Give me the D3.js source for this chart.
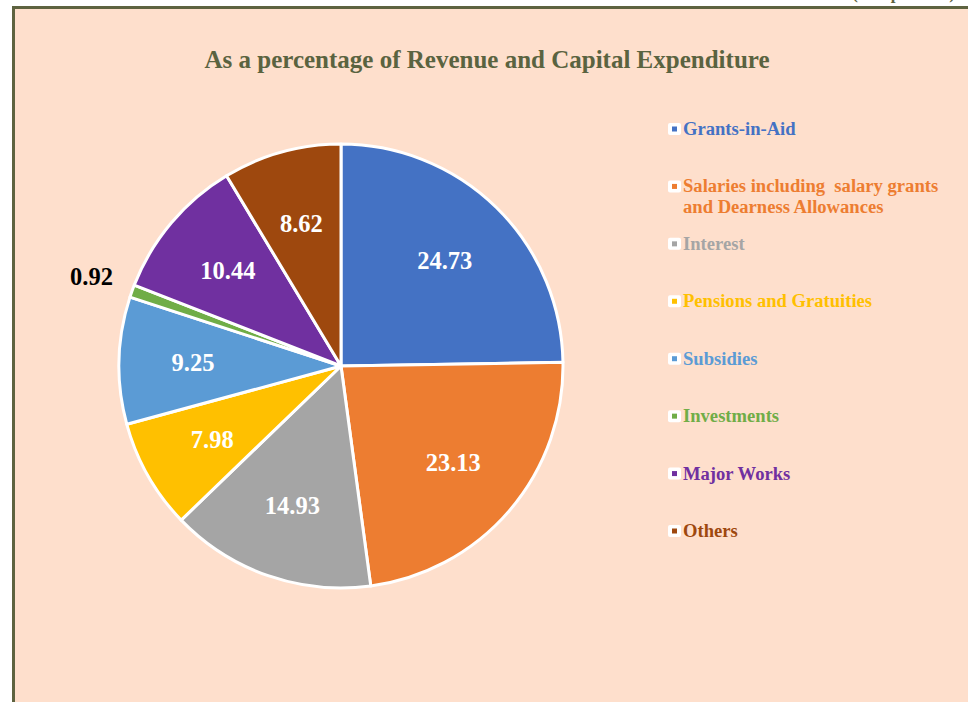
<!DOCTYPE html>
<html lang="en">
<head>
    <meta charset="UTF-8">
    <title>Revenue and Capital Expenditure</title>
    <script src="https://d3js.org/d3.v7.min.js"></script>
    <style>
        body { margin: 0; background: #fff; }
        svg { display: block; }
        text { font-family: "Liberation Serif", "Times New Roman", serif; font-weight: bold; white-space: pre; }
    </style>
</head>
<body>
    <svg width="968" height="702"></svg>

    <script>
        // data
        const categories = ["Grants-in-Aid", "Salaries including  salary grants|and Dearness Allowances", "Interest",
            "Pensions and Gratuities", "Subsidies", "Investments", "Major Works", "Others"];
        const values = [24.73, 23.13, 14.93, 7.98, 9.25, 0.92, 10.44, 8.62];
        const colors = ["#4472C4", "#ED7D31", "#A5A5A5", "#FFC000", "#5B9BD5", "#70AD47", "#7030A0", "#9E480E"];

        const svg = d3.select("svg");
        const width = +svg.attr("width");
        const height = +svg.attr("height");

        // frame
        svg.append("rect")
            .attr("x", 13.5).attr("y", 7.5)
            .attr("width", width + 10).attr("height", height + 10)
            .attr("fill", "#FEDFCC")
            .attr("stroke", "#5E6340")
            .attr("stroke-width", 3);

        svg.append("text")
            .attr("x", 955).attr("y", -1)
            .attr("text-anchor", "end")
            .attr("font-size", 17)
            .attr("fill", "#5E6340")
            .text("(₹ in per cent)");

        svg.append("text")
            .attr("x", 487).attr("y", 68)
            .attr("text-anchor", "middle")
            .attr("font-size", 25)
            .attr("fill", "#5A6340")
            .text("As a percentage of Revenue and Capital Expenditure");

        const cx = 341, cy = 366, radius = 222;

        const pie = d3.pie().sort(null).value(d => d);
        const arcs = pie(values);
        const arc = d3.arc().innerRadius(0).outerRadius(radius);
        const labelArc = d3.arc().innerRadius(148).outerRadius(148);
        const outerArc = d3.arc().innerRadius(265).outerRadius(265);

        const g = svg.append("g").attr("transform", `translate(${cx},${cy})`);

        g.selectAll("path")
            .data(arcs)
            .enter().append("path")
            .attr("d", arc)
            .attr("fill", (d, i) => colors[i])
            .attr("stroke", "#fff")
            .attr("stroke-width", 3)
            .attr("stroke-linejoin", "round");

        g.selectAll("text.lbl")
            .data(arcs)
            .enter().append("text")
            .attr("class", "lbl")
            .attr("transform", d => `translate(${(d.value < 2 ? outerArc : labelArc).centroid(d)})`)
            .attr("text-anchor", "middle")
            .attr("dy", "0.35em")
            .attr("font-size", 24.5)
            .attr("fill", d => d.value < 2 ? "#000" : "#fff")
            .text(d => d.value.toFixed(2));

        // legend
        const legendY = d3.scalePoint().domain(d3.range(categories.length)).range([129, 531]);
        const legend = svg.append("g")
            .selectAll("g")
            .data(categories)
            .enter().append("g")
            .attr("transform", (d, i) => `translate(674.5,${legendY(i)})`);

        legend.append("rect")
            .attr("x", -6.5).attr("y", -6)
            .attr("width", 13).attr("height", 12)
            .attr("rx", 2)
            .attr("fill", "#fff");
        legend.append("rect")
            .attr("x", -2.5).attr("y", -2.5)
            .attr("width", 5).attr("height", 5)
            .attr("fill", (d, i) => colors[i]);

        legend.append("text")
            .attr("x", 8.5)
            .attr("y", 6)
            .attr("font-size", 18.6)
            .attr("fill", (d, i) => colors[i])
            .selectAll("tspan")
            .data(d => d.split("|"))
            .enter().append("tspan")
            .attr("x", 8.5)
            .attr("dy", (d, i) => i === 0 ? 0 : 21)
            .text(d => d);
    </script>
</body>
</html>
